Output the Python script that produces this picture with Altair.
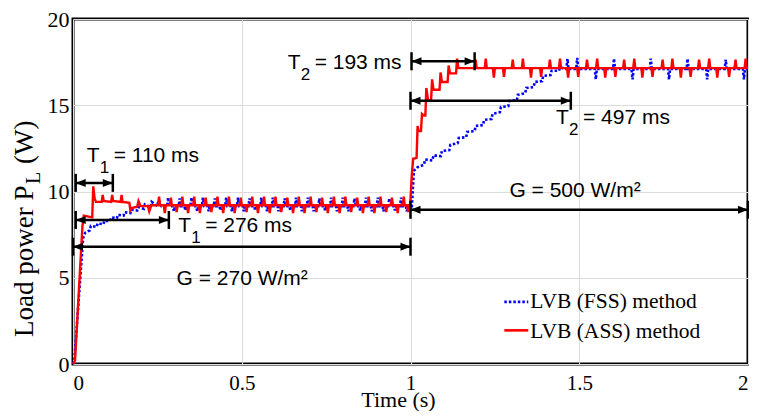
import altair as alt
import pandas as pd

# ---------------- values ----------------
# LVB (ASS) method (red): start-up transient, t [s], P_L [W]
ass_start_t = [0.000, 0.006, 0.028, 0.032, 0.057, 0.060, 0.064, 0.068, 0.085, 0.088, 0.091, 0.113, 0.116, 0.119,
               0.141, 0.144, 0.147, 0.167, 0.170, 0.175, 0.190, 0.194, 0.200, 0.222, 0.226, 0.232, 0.245]
ass_start_v = [0.0, 0.2, 8.0, 8.6, 8.5, 10.3, 9.6, 9.4, 9.4, 9.8, 9.45, 9.4, 9.8, 9.45,
               9.4, 9.8, 9.4, 9.35, 8.9, 9.05, 9.1, 9.45, 9.15, 9.15, 8.85, 9.2, 9.2]
# ripple at G = 270 W/m2
ass_base1 = 9.2
ass_up1_t = [0.255, 0.290, 0.324, 0.359, 0.393, 0.428, 0.462, 0.497, 0.531, 0.566, 0.600, 0.635, 0.669, 0.704,
             0.738, 0.773, 0.807, 0.842, 0.876, 0.911, 0.945, 0.980]
ass_up1_v = [9.7, 9.65, 9.7, 9.7, 9.65, 9.7, 9.7, 9.65, 9.7, 9.7, 9.7, 9.65, 9.7, 9.7,
             9.65, 9.7, 9.7, 9.65, 9.7, 9.7, 9.65, 9.7]
ass_dn1_t = [0.272, 0.307, 0.341, 0.376, 0.410, 0.445, 0.479, 0.514, 0.548, 0.583, 0.617, 0.652, 0.686, 0.721,
             0.755, 0.790, 0.824, 0.859, 0.893, 0.928, 0.962, 0.993]
ass_dn1_v = [8.75, 8.8, 8.75, 8.75, 8.8, 8.75, 8.75, 8.8, 8.75, 8.75, 8.8, 8.75, 8.75, 8.8,
             8.75, 8.75, 8.8, 8.75, 8.75, 8.8, 8.75, 8.8]
# step of irradiance at t = 1 s
ass_step_t = [0.999, 1.004, 1.008, 1.018, 1.021, 1.024, 1.031, 1.034, 1.040, 1.044, 1.047, 1.052, 1.061,
              1.064, 1.068, 1.086, 1.089, 1.093, 1.110, 1.113, 1.117, 1.135, 1.138, 1.142, 1.165]
ass_step_v = [9.2, 11.0, 11.9, 11.95, 13.8, 13.5, 13.5, 14.5, 14.4, 14.4, 16.0, 15.3, 15.3,
              16.5, 15.9, 15.9, 16.9, 16.35, 16.35, 17.3, 16.85, 16.85, 17.7, 17.15, 17.15]
# ripple at G = 500 W/m2
ass_base2 = 17.15
ass_up2_t = [1.193, 1.223, 1.303, 1.333, 1.413, 1.443, 1.523, 1.553, 1.633, 1.663, 1.747, 1.776, 1.855, 1.885,
             1.963, 1.993]
ass_up2_v = [17.65, 17.7, 17.65, 17.7, 17.65, 17.7, 17.65, 17.7, 17.65, 17.7, 17.65, 17.7, 17.65, 17.7,
             17.65, 17.7]
ass_dn2_t = [1.247, 1.277, 1.357, 1.387, 1.467, 1.497, 1.577, 1.607, 1.687, 1.717, 1.801, 1.830, 1.909, 1.944]
ass_dn2_v = [16.6, 16.65, 16.6, 16.65, 16.6, 16.65, 16.6, 16.65, 16.6, 16.65, 16.6, 16.65, 16.6, 16.65]
ass_end = [(2.0, 17.15)]

# LVB (FSS) method (blue, dotted)
fss_start_t = [0.000, 0.004, 0.030, 0.036, 0.050, 0.053, 0.070, 0.073, 0.090, 0.093, 0.110, 0.113, 0.130,
               0.133, 0.150, 0.153, 0.170, 0.173, 0.190, 0.193, 0.210, 0.213, 0.230, 0.233, 0.250, 0.253, 0.262]
fss_start_v = [0.0, 0.2, 7.3, 7.6, 7.75, 8.0, 7.95, 8.15, 8.1, 8.3, 8.3, 8.5, 8.45,
               8.65, 8.6, 8.8, 8.75, 8.95, 8.9, 9.1, 9.0, 9.25, 9.1, 9.4, 9.15, 9.5, 9.15]
fss_base1 = 9.15
fss_up1_t = [0.282, 0.316, 0.351, 0.385, 0.420, 0.454, 0.489, 0.523, 0.558, 0.592, 0.627, 0.661, 0.696, 0.730,
             0.765, 0.799, 0.834, 0.868, 0.903, 0.937, 0.972]
fss_up1_v = [9.65, 9.6, 9.65, 9.65, 9.6, 9.65, 9.65, 9.6, 9.65, 9.65, 9.6, 9.65, 9.65, 9.6,
             9.65, 9.65, 9.6, 9.65, 9.65, 9.6, 9.65]
fss_dn1_t = [0.299, 0.333, 0.368, 0.402, 0.437, 0.471, 0.506, 0.540, 0.575, 0.609, 0.644, 0.678, 0.713, 0.747,
             0.782, 0.816, 0.851, 0.885, 0.920, 0.954, 0.989]
fss_dn1_v = [8.85, 8.9, 8.85, 8.85, 8.9, 8.85, 8.85, 8.9, 8.85, 8.85, 8.9, 8.85, 8.85, 8.9,
             8.85, 8.85, 8.9, 8.85, 8.85, 8.9, 8.85]
fss_ramp_t = [1.004, 1.010, 1.020, 1.040, 1.043, 1.065, 1.068, 1.090, 1.093, 1.115, 1.118, 1.140, 1.143,
              1.165, 1.168, 1.190, 1.193, 1.215, 1.218, 1.240, 1.243, 1.265, 1.268, 1.290, 1.293, 1.315,
              1.318, 1.340, 1.343, 1.365, 1.368, 1.390, 1.393, 1.415, 1.418, 1.440, 1.443, 1.460]
fss_ramp_v = [9.15, 11.2, 11.4, 11.55, 11.85, 11.8, 12.1, 12.05, 12.35, 12.4, 12.7, 12.8, 13.1,
              13.15, 13.45, 13.5, 13.8, 13.85, 14.15, 14.2, 14.5, 14.6, 14.9, 14.95, 15.25, 15.3,
              15.6, 15.7, 16.0, 16.05, 16.35, 16.4, 16.7, 16.75, 17.0, 17.0, 17.2, 17.1]
fss_base2 = 17.1
fss_up2_t = [1.465, 1.494, 1.603, 1.712, 1.821, 1.934]
fss_up2_v = [17.7, 17.75, 17.7, 17.7, 17.7, 17.65]
fss_dn2_t = [1.549, 1.658, 1.766, 1.879, 1.988]
fss_dn2_v = [16.5, 16.5, 16.5, 16.5, 16.5]
fss_end = [(2.0, 17.1)]

# annotation arrows: start, end, level
arrow_t0 = [0.008, 0.008, 0.000, 1.003, 1.000, 1.000]
arrow_t1 = [0.118, 0.284, 1.000, 1.190, 1.475, 2.000]
arrow_v = [10.5, 8.35, 6.8, 17.55, 15.26, 8.94]

# "T_x = ... ms" labels
tlab_t = [0.0405, 0.3115, 0.636, 1.431]
tlab_v = [11.69, 7.65, 17.09, 13.91]
tlab_sub = ["1", "1", "2", "2"]
tlab_rest = ["= 110 ms", "= 276 ms", "= 193 ms", "= 497 ms"]

# irradiance labels
glab_t = [0.3068, 1.293]
glab_v = [4.57, 9.7]
glab_text = ["G = 270 W/m\u00b2", "G = 500 W/m\u00b2"]

legend_names = ["LVB (FSS) method", "LVB (ASS) method"]
legend_v = [3.6, 1.95]
legend_text_v = [3.22, 1.49]
legend_t0, legend_t1, legend_tt = 1.278, 1.349, 1.355

x_ticks = [0, 0.5, 1, 1.5, 2]
y_ticks = [0, 5, 10, 15, 20]


def build(knots, ripples, w=0.003):
    pts = list(knots)
    for base, ts, vs in ripples:
        for s, p in zip(ts, vs):
            pts += [(s - w, base), (s, p), (s + w, base)]
    pts.sort(key=lambda q: q[0])
    df = pd.DataFrame(pts, columns=["t", "v"])
    df["i"] = range(len(df))
    return df


ass = build(list(zip(ass_start_t, ass_start_v)) + list(zip(ass_step_t, ass_step_v)) + ass_end,
            [(ass_base1, ass_up1_t, ass_up1_v), (ass_base1, ass_dn1_t, ass_dn1_v),
             (ass_base2, ass_up2_t, ass_up2_v), (ass_base2, ass_dn2_t, ass_dn2_v)])
fss = build(list(zip(fss_start_t, fss_start_v)) + list(zip(fss_ramp_t, fss_ramp_v)) + fss_end,
            [(fss_base1, fss_up1_t, fss_up1_v), (fss_base1, fss_dn1_t, fss_dn1_v),
             (fss_base2, fss_up2_t, fss_up2_v), (fss_base2, fss_dn2_t, fss_dn2_v)])

arrows = pd.DataFrame({"t0": arrow_t0, "t1": arrow_t1, "v": arrow_v})
tlabs = pd.DataFrame({"t": tlab_t, "v": tlab_v, "sub": tlab_sub, "rest": tlab_rest})
glabs = pd.DataFrame({"t": glab_t, "v": glab_v, "text": glab_text})
leg = pd.DataFrame({"t0": [legend_t0] * 2, "t1": [legend_t1] * 2, "tt": [legend_tt] * 2,
                    "v": legend_v, "vt": legend_text_v, "name": legend_names})

xs = alt.Scale(domain=[0, 2], nice=False, zero=False)
ys = alt.Scale(domain=[0, 20], nice=False, zero=False)
xaxis = alt.Axis(values=x_ticks, format="~g", title="Time (s)", labelPadding=8, labelFontSize=21,
                 titleFont="Liberation Serif", titleFontSize=22, titleFontWeight="normal",
                 titleBaseline="alphabetic", titleY=42, titleX=325, titleAlign="center",
                 titleColor="black")
yaxis = alt.Axis(values=y_ticks, format="~g", title=None, labelPadding=4)


def X(f):
    return alt.X(f, type="quantitative", scale=xs, axis=xaxis)


def Y(f):
    return alt.Y(f, type="quantitative", scale=ys, axis=yaxis)


fss_line = alt.Chart(fss).mark_line(color="#0000ff", strokeWidth=2.6, strokeDash=[2.5, 2],
                                    interpolate="linear").encode(x=X("t"), y=Y("v"), order="i:Q")
ass_line = alt.Chart(ass).mark_line(color="#ff0000", strokeWidth=2.4,
                                    interpolate="linear").encode(x=X("t"), y=Y("v"), order="i:Q")

arr_rule = alt.Chart(arrows).mark_rule(color="black", strokeWidth=2.5).encode(
    x=X("t0"), x2="t1", y=Y("v"))
left_head = alt.Chart(arrows).mark_point(shape="M0,0L2,-0.8L2,0.8Z", filled=True, size=100,
                                         color="black", opacity=1).encode(x=X("t0"), y=Y("v"))
right_head = alt.Chart(arrows).mark_point(shape="M0,0L-2,-0.8L-2,0.8Z", filled=True, size=100,
                                          color="black", opacity=1).encode(x=X("t1"), y=Y("v"))
left_tick = alt.Chart(arrows).mark_tick(orient="vertical", size=18, thickness=2.5,
                                        color="black", opacity=1).encode(x=X("t0"), y=Y("v"))
right_tick = alt.Chart(arrows).mark_tick(orient="vertical", size=18, thickness=2.5,
                                         color="black", opacity=1).encode(x=X("t1"), y=Y("v"))

sans = "Liberation Sans"
t_main = alt.Chart(tlabs).mark_text(text="T", font=sans, fontSize=21, align="left",
                                    baseline="alphabetic", color="black").encode(x=X("t"), y=Y("v"))
t_sub = alt.Chart(tlabs).mark_text(font=sans, fontSize=17, align="left", baseline="alphabetic",
                                   dx=13, dy=11, color="black").encode(x=X("t"), y=Y("v"), text="sub:N")
t_rest = alt.Chart(tlabs).mark_text(font=sans, fontSize=21, align="left", baseline="alphabetic",
                                    dx=27, color="black").encode(x=X("t"), y=Y("v"), text="rest:N")
g_txt = alt.Chart(glabs).mark_text(font=sans, fontSize=21, align="left", baseline="alphabetic",
                                   color="black").encode(x=X("t"), y=Y("v"), text="text:N")

leg_fss = alt.Chart(leg.iloc[[0]]).mark_rule(color="#0000ff", strokeWidth=2.6, strokeDash=[2.5, 2]).encode(
    x=X("t0"), x2="t1", y=Y("v"))
leg_ass = alt.Chart(leg.iloc[[1]]).mark_rule(color="#ff0000", strokeWidth=2.6).encode(
    x=X("t0"), x2="t1", y=Y("v"))
leg_txt = alt.Chart(leg).mark_text(font="Liberation Serif", fontSize=21.5, align="left",
                                   baseline="alphabetic", color="black").encode(
    x=X("tt"), y=Y("vt"), text="name:N")

# y-axis title with subscript, built from rotated text pieces
ytitle = pd.DataFrame({"a": ["Load power P"], "b": ["L"], "c": ["(W)"]})
serif = "Liberation Serif"
yt1 = alt.Chart(ytitle).mark_text(font=serif, fontSize=27, angle=270, align="left",
                                  baseline="alphabetic", color="black").encode(
    x=alt.value(-40), y=alt.value(318), text="a:N")
yt2 = alt.Chart(ytitle).mark_text(font=serif, fontSize=20, angle=270, align="left",
                                  baseline="alphabetic", color="black", dx=153, dy=7).encode(
    x=alt.value(-40), y=alt.value(318), text="b:N")
yt3 = alt.Chart(ytitle).mark_text(font=serif, fontSize=27, angle=270, align="left",
                                  baseline="alphabetic", color="black", dx=173).encode(
    x=alt.value(-40), y=alt.value(318), text="c:N")

chart = alt.layer(
    fss_line, ass_line, arr_rule, left_head, right_head, left_tick, right_tick,
    t_main, t_sub, t_rest, g_txt, leg_fss, leg_ass, leg_txt, yt1, yt2, yt3
).properties(
    width=675, height=345, autosize="none",
    padding={"left": 65, "top": 11, "right": 1, "bottom": 47},
    background="white"
).configure_view(
    stroke="black", strokeWidth=3
).configure_axis(
    grid=True, gridColor="#dcdcdc", gridWidth=1, domain=False, ticks=False,
    labelFont="Liberation Serif", labelFontSize=22, labelColor="black"
)

chart.save("out.html", embed_options={"renderer": "svg", "actions": False})
